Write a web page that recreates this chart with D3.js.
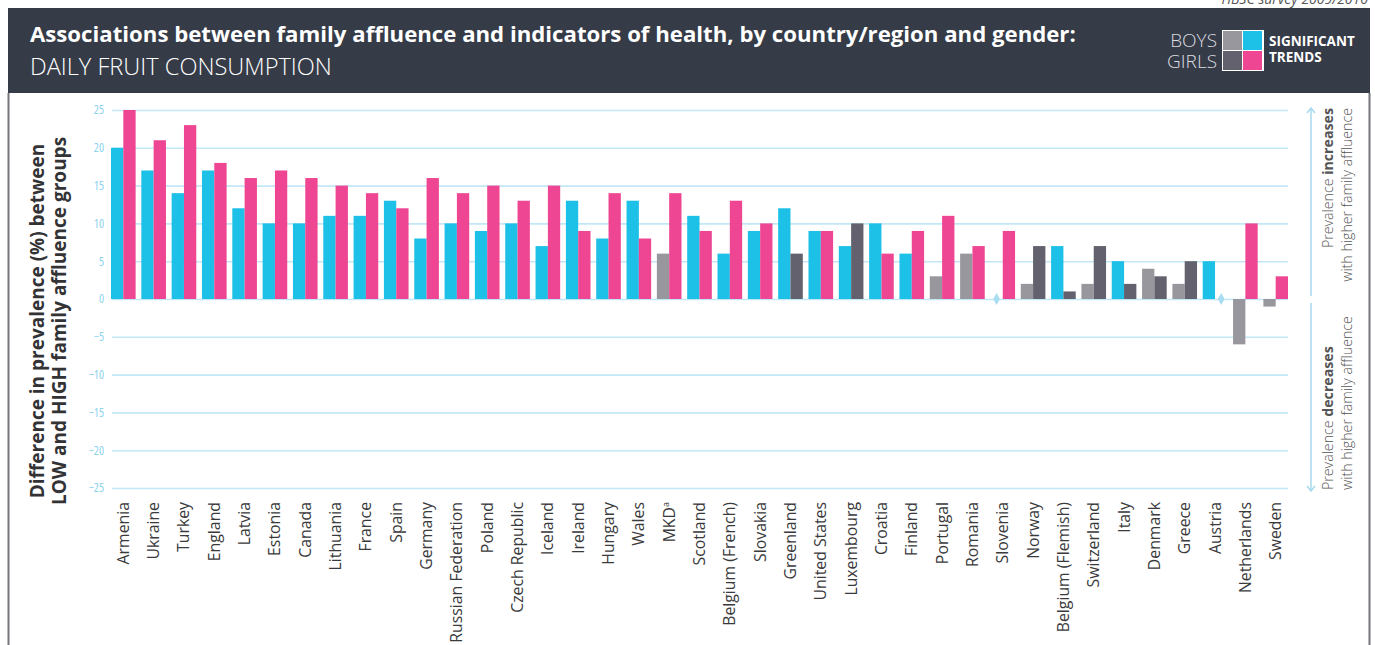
<!DOCTYPE html>
<html>
<head>
<meta charset="utf-8">
<script src="https://cdn.jsdelivr.net/npm/d3@7"></script>
<style>
  html, body { margin: 0; padding: 0; background: #ffffff; }
  svg { display: block; }
  text { font-family: 'Open Sans', 'Noto Sans', sans-serif; }
</style>
</head>
<body>
<svg id="chart" width="1375" height="645"></svg>
<script>
// Countries in display order
const countries = [
  "Armenia", "Ukraine", "Turkey", "England", "Latvia", "Estonia", "Canada",
  "Lithuania", "France", "Spain", "Germany", "Russian Federation", "Poland",
  "Czech Republic", "Iceland", "Ireland", "Hungary", "Wales", "MKD", "Scotland",
  "Belgium (French)", "Slovakia", "Greenland", "United States", "Luxembourg",
  "Croatia", "Finland", "Portugal", "Romania", "Slovenia", "Norway",
  "Belgium (Flemish)", "Switzerland", "Italy", "Denmark", "Greece", "Austria",
  "Netherlands", "Sweden"
];

// Difference in prevalence (%) between low and high affluence groups
const boysValues = [
  20, 17, 14, 17, 12, 10, 10, 11, 11, 13, 8, 10, 9, 10, 7, 13, 8, 13, 6, 11,
  6, 9, 12, 9, 7, 10, 6, 3, 6, 0, 2, 7, 2, 5, 4, 2, 5, -6, -1
];
const girlsValues = [
  25, 21, 23, 18, 16, 17, 16, 15, 14, 12, 16, 14, 15, 13, 15, 9, 14, 8, 14, 9,
  13, 10, 6, 9, 10, 6, 9, 11, 7, 9, 7, 1, 7, 2, 3, 5, 0, 10, 3
];

// 1 = significant trend, 0 = not significant
const boysSignificant = [
  1, 1, 1, 1, 1, 1, 1, 1, 1, 1, 1, 1, 1, 1, 1, 1, 1, 1, 0, 1,
  1, 1, 1, 1, 1, 1, 1, 0, 0, 0, 0, 1, 0, 1, 0, 0, 1, 0, 0
];
const girlsSignificant = [
  1, 1, 1, 1, 1, 1, 1, 1, 1, 1, 1, 1, 1, 1, 1, 1, 1, 1, 1, 1,
  1, 1, 0, 1, 0, 1, 1, 1, 1, 1, 0, 0, 0, 0, 0, 0, 0, 1, 1
];

const yTicks = [25, 20, 15, 10, 5, 0, -5, -10, -15, -20, -25];
const genders = ["boys", "girls"];

const colors = {
  boys:  { sig: "#1dc0e6", non: "#98979d" },
  girls: { sig: "#ee4693", non: "#62616d" },
  zero: "#a9def2"
};

const svg = d3.select("#chart");
const W = 1375, H = 645;

// Header band
svg.append("rect")
  .attr("x", 8).attr("y", 8).attr("width", 1362).attr("height", 85)
  .attr("fill", "#353b47");

// Survey note above header (partly clipped by the page top)
svg.append("text")
  .attr("x", 1368).attr("y", 4)
  .attr("text-anchor", "end")
  .attr("font-size", 14).attr("font-style", "italic")
  .attr("fill", "#555")
  .text("HBSC survey 2009/2010");

// Side borders of the panel
svg.append("line").attr("x1", 8.5).attr("x2", 8.5).attr("y1", 93).attr("y2", H)
  .attr("stroke", "#75757b").attr("stroke-width", 2);
svg.append("line").attr("x1", 1369.5).attr("x2", 1369.5).attr("y1", 93).attr("y2", H)
  .attr("stroke", "#75757b").attr("stroke-width", 2);

// Titles
svg.append("text")
  .attr("x", 30).attr("y", 42)
  .attr("font-size", 22.2).attr("font-weight", 700)
  .attr("fill", "#ffffff")
  .text("Associations between family affluence and indicators of health, by country/region and gender:");
svg.append("text")
  .attr("x", 30).attr("y", 75)
  .attr("font-size", 23.6).attr("font-weight", 300)
  .attr("fill", "#ffffff")
  .text("DAILY FRUIT CONSUMPTION");

// Legend
const lg = svg.append("g");
lg.append("text").attr("x", 1217).attr("y", 47).attr("text-anchor", "end")
  .attr("font-size", 19).attr("font-weight", 300).attr("fill", "#dcdde0").text("BOYS");
lg.append("text").attr("x", 1217).attr("y", 68).attr("text-anchor", "end")
  .attr("font-size", 19).attr("font-weight", 300).attr("fill", "#dcdde0").text("GIRLS");
lg.append("rect").attr("x", 1222).attr("y", 30).attr("width", 42).attr("height", 41).attr("fill", "#ffffff");
const sw = [
  { x: 1223, y: 31, c: colors.boys.non },
  { x: 1243, y: 31, c: colors.boys.sig },
  { x: 1223, y: 51, c: colors.girls.non },
  { x: 1243, y: 51, c: colors.girls.sig }
];
lg.selectAll("rect.sw").data(sw).join("rect").attr("class", "sw")
  .attr("x", d => d.x).attr("y", d => d.y).attr("width", 19).attr("height", 19)
  .attr("fill", d => d.c);
lg.append("text").attr("x", 1269).attr("y", 46)
  .attr("font-size", 13.5).attr("font-weight", 700).attr("fill", "#ffffff").text("SIGNIFICANT");
lg.append("text").attr("x", 1269).attr("y", 62)
  .attr("font-size", 13.5).attr("font-weight", 700).attr("fill", "#ffffff").text("TRENDS");

// Scales
const y = d3.scaleLinear().domain([-25, 25]).range([488, 110]);
const x = d3.scaleBand().domain(countries).range([111, 1288]).paddingInner(0.188).paddingOuter(0);
const xg = d3.scaleBand().domain(genders).range([0, x.bandwidth()]).padding(0);

// Gridlines and tick labels via axis
const yAxis = d3.axisLeft(y).tickValues(yTicks).tickSize(-(1288 - 112)).tickPadding(8)
  .tickFormat(d => d3.format("d")(d).replace("-", "\u2212"));
const gy = svg.append("g").attr("transform", "translate(112,0)").call(yAxis);
gy.select(".domain").remove();
gy.selectAll(".tick line").attr("stroke", "#c2e7f5").attr("stroke-width", 1.6);
gy.selectAll(".tick text").attr("fill", "#8dd3ee").attr("font-size", 12)
  .attr("font-family", "'Open Sans', 'Noto Sans', sans-serif")
  .style("font-stretch", "85%");

// Bars
const rows = countries.map((c, i) => ({
  country: c,
  items: [
    { g: "boys", v: boysValues[i], s: boysSignificant[i] },
    { g: "girls", v: girlsValues[i], s: girlsSignificant[i] }
  ]
}));

const groups = svg.append("g").selectAll("g").data(rows).join("g")
  .attr("transform", d => `translate(${x(d.country)},0)`);

groups.selectAll("rect").data(d => d.items.filter(it => it.v !== 0)).join("rect")
  .attr("x", d => xg(d.g))
  .attr("width", xg.bandwidth())
  .attr("y", d => y(Math.max(0, d.v)))
  .attr("height", d => Math.abs(y(d.v) - y(0)))
  .attr("fill", d => d.s ? colors[d.g].sig : colors[d.g].non);

// Zero values shown as diamonds on the baseline
groups.selectAll("path").data(d => d.items.filter(it => it.v === 0)).join("path")
  .attr("d", d3.symbol(d3.symbolDiamond, 40))
  .attr("transform", d => `translate(${xg(d.g) + xg.bandwidth() / 2},${y(0)})`)
  .attr("fill", colors.zero);

// Country labels
const xl = svg.append("g");
xl.selectAll("text").data(countries).join("text")
  .attr("transform", d => `translate(${x(d) + x.bandwidth() / 2},502) rotate(-90)`)
  .attr("text-anchor", "end")
  .attr("dy", "0.35em")
  .attr("font-size", 15.8)
  .attr("fill", "#3a3a3c")
  .each(function (d) {
    const t = d3.select(this);
    t.text(d);
    if (d === "MKD") {
      t.append("tspan").attr("font-size", 9).attr("dy", "-0.6em").text("a");
    }
  });

// Y axis title
const yt = svg.append("text")
  .attr("transform", "translate(49,321) rotate(-90)")
  .attr("text-anchor", "middle")
  .attr("font-size", 19).attr("font-weight", 700).attr("fill", "#333336")
  .style("font-stretch", "89%");
yt.append("tspan").attr("x", 0).attr("dy", "-0.25em").text("Difference in prevalence (%) between");
yt.append("tspan").attr("x", 0).attr("dy", "1.15em").text("LOW and HIGH family affluence groups");

// Direction annotations on the right
const ann = svg.append("g");
const arrowColor = "#a7daef";
ann.append("line").attr("x1", 1311).attr("x2", 1311).attr("y1", 296).attr("y2", 108)
  .attr("stroke", arrowColor).attr("stroke-width", 1.5);
ann.append("path").attr("d", "M1307,113 L1311,108 L1315,113")
  .attr("fill", "none").attr("stroke", arrowColor).attr("stroke-width", 1.5);
ann.append("line").attr("x1", 1311).attr("x2", 1311).attr("y1", 303).attr("y2", 491)
  .attr("stroke", arrowColor).attr("stroke-width", 1.5);
ann.append("path").attr("d", "M1307,486 L1311,491 L1315,486")
  .attr("fill", "none").attr("stroke", arrowColor).attr("stroke-width", 1.5);

function annText(xPos, yPos, anchor, parts) {
  const t = ann.append("text")
    .attr("transform", `translate(${xPos},${yPos}) rotate(-90)`)
    .attr("text-anchor", anchor)
    .attr("font-size", 14.2).attr("font-weight", 300).attr("fill", "#555");
  parts.forEach(p => t.append("tspan").attr("font-weight", p.b ? 700 : 300).text(p.t));
}
annText(1333, 108, "end", [{ t: "Prevalence " }, { t: "increases", b: true }]);
annText(1352, 108, "end", [{ t: "with higher family affluence" }]);
annText(1333, 490, "start", [{ t: "Prevalence " }, { t: "decreases", b: true }]);
annText(1352, 490, "start", [{ t: "with higher family affluence" }]);
</script>
</body>
</html>
